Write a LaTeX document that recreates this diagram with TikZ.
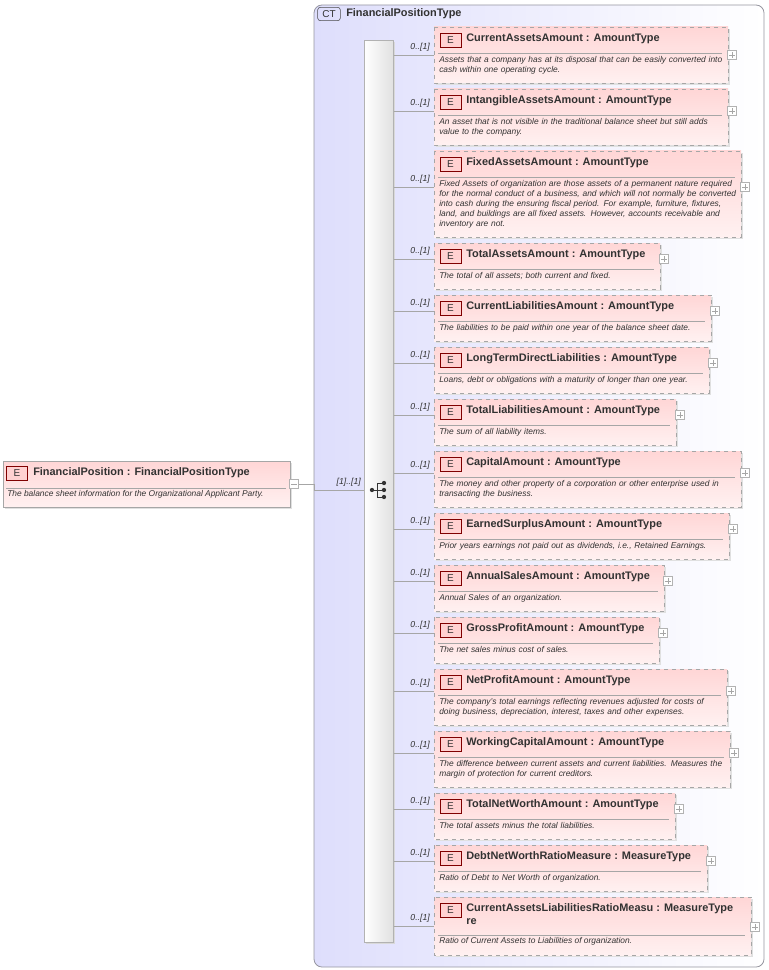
\documentclass[tikz,border=0pt]{standalone}
\usepackage{fontspec}
\setmainfont{Liberation Sans}
\usetikzlibrary{calc}
\definecolor{ctfill}{RGB}{222,222,252}
\definecolor{ctline}{RGB}{150,150,160}
\definecolor{elpink}{RGB}{255,214,214}
\definecolor{eltxt}{RGB}{50,50,50}
\tikzset{
 elbox/.style={draw=gray!70,dashed,top color=elpink,bottom color=elpink!35,line width=0.6pt},
 solidel/.style={draw=gray!70,top color=elpink,bottom color=elpink!35,line width=0.6pt},
 shadowbox/.style={fill=black!12},
 ebadge/.style={draw=red!50!black,fill=red!18,line width=0.5pt,inner sep=0pt,minimum width=15.5pt,minimum height=10.5pt,font=\fontsize{7.5}{8}\selectfont,text=black!80},
 ttl/.style={anchor=west,font=\bfseries\fontsize{8.2}{10}\selectfont,text=eltxt,inner sep=0pt,align=left},
 dsc/.style={anchor=north west,font=\itshape\fontsize{6.3}{7.5}\selectfont,text=eltxt,inner sep=0pt,align=left},
 conn/.style={draw=gray!70,line width=0.6pt},
 card/.style={font=\itshape\fontsize{6.5}{7}\selectfont,text=eltxt,inner sep=0pt,anchor=south east},
 plusbox/.style={draw=gray!60,fill=white,line width=0.4pt,minimum size=7pt,inner sep=0pt},
}
\newcommand\elem[7]{% id, right x, top y, bottom y, conn y, title, desc
 \fill[shadowbox] (436,#3+2) rectangle (#2+2,#4+2);
 \path[elbox] (434,#3) rectangle (#2,#4);
 \node[ebadge] (b#1) at (450.5,#3+13) {E};
 \node[ttl] (t#1) at (466,#3+12) {#6};
 \draw[gray!70,line width=0.5pt] (438,#3+26) -- (#2-6,#3+26);
 \node[dsc,text width=(#2-434-8)*0.75pt] (d#1) at (439,#3+29) {\raggedright #7\par};
 \node[plusbox] (p#1) at (#2+4,#5) {};
 \draw[gray!70,line width=0.4pt] ($(p#1)+(-2.2pt,0)$) -- ($(p#1)+(2.2pt,0)$) ($(p#1)+(0,-2.2pt)$) -- ($(p#1)+(0,2.2pt)$);
 \coordinate (e#1) at (434,#5);
 \draw[conn] (bar.east|-e#1) -- (e#1);
 \node[card] at (430,#5-3) {0..[1]};
}
\begin{document}
\begin{tikzpicture}[x=0.75pt,y=-0.75pt]
\useasboundingbox (0,0) rectangle (768,970);
% CT box
\path[draw=ctline,left color=ctfill,right color=white,rounded corners=6pt,line width=0.6pt] (314,5) rectangle (764,967);
\node[draw=black!70,rounded corners=2pt,inner sep=1pt,minimum width=17pt,minimum height=10pt,font=\fontsize{7.5}{8}\selectfont,text=black!80] (ct) at (329,14) {CT};
\node[ttl] (cttitle) at (346,13.5) {FinancialPositionType};
% sequence bar
\fill[black!15] (366,42) rectangle (395,944);
\node[draw=gray!60,left color=white,right color=black!12,minimum width=29*0.75pt,minimum height=902*0.75pt,inner sep=0pt,anchor=north west,line width=0.5pt] (bar) at (364,40) {};
% sequence icon
\coordinate (sq) at (379,490);
\fill[black!80] (372,490) circle (1.6pt);
\draw[black!80,line width=0.7pt] (372,490) -- (377,490) (377,483) -- (377,497) (377,483) -- (384,483) (377,490) -- (384,490) (377,497) -- (384,497);
\fill[black!80] (384,483) circle (1.6pt) (384,490) circle (1.6pt) (384,497) circle (1.6pt);
% left element
\fill[shadowbox] (5,463) rectangle (292,509);
\path[solidel] (3,461) rectangle (290,507);
\node[ebadge] (b0) at (17,473) {E};
\node[ttl] (t0) at (33,472.5) {FinancialPosition : FinancialPositionType};
\draw[gray!70,line width=0.5pt] (6,488) -- (286,488);
\node[dsc] (d0) at (7,490) {The balance sheet information for the Organizational Applicant Party.};
\node[plusbox] (m0) at (294,484) {};
\draw[gray!70,line width=0.4pt] ($(m0)+(-2.2pt,0)$) -- ($(m0)+(2.2pt,0)$);
\coordinate (lj) at (314,490);
\draw[conn] (m0.east) -- (314,484) -- (lj) -- (bar.west|-lj);
\node[card] at (361,487) {[1]..[1]};
%
\elem{1}{728}{27}{83}{55}{CurrentAssetsAmount : AmountType}{Assets that a company has at its disposal that can be easily converted into cash within one operating cycle.}
\elem{2}{728}{89}{145}{111}{IntangibleAssetsAmount : AmountType}{An asset that is not visible in the traditional balance sheet but still adds value to the company.}
\elem{3}{741}{151}{237}{187}{FixedAssetsAmount : AmountType}{Fixed Assets of organization are those assets of a permanent nature required for the normal conduct of a business, and which will not normally be converted into cash during the ensuring fiscal period. For example, furniture, fixtures, land, and buildings are all fixed assets. However, accounts receivable and inventory are not.}
\elem{4}{660}{243}{289}{259}{TotalAssetsAmount : AmountType}{The total of all assets; both current and fixed.}
\elem{5}{711}{295}{341}{311}{CurrentLiabilitiesAmount : AmountType}{The liabilities to be paid within one year of the balance sheet date.}
\elem{6}{709}{347}{393}{363}{LongTermDirectLiabilities : AmountType}{Loans, debt or obligations with a maturity of longer than one year.}
\elem{7}{676}{399}{445}{415}{TotalLiabilitiesAmount : AmountType}{The sum of all liability items.}
\elem{8}{741}{451}{507}{473}{CapitalAmount : AmountType}{The money and other property of a corporation or other enterprise used in transacting the business.}
\elem{9}{729}{513}{559}{529}{EarnedSurplusAmount : AmountType}{Prior years earnings not paid out as dividends, i.e., Retained Earnings.}
\elem{10}{664}{565}{611}{581}{AnnualSalesAmount : AmountType}{Annual Sales of an organization.}
\elem{11}{659}{617}{663}{633}{GrossProfitAmount : AmountType}{The net sales minus cost of sales.}
\elem{12}{727}{669}{725}{691}{NetProfitAmount : AmountType}{The company's total earnings reflecting revenues adjusted for costs of doing business, depreciation, interest, taxes and other expenses.}
\elem{13}{730}{731}{787}{753}{WorkingCapitalAmount : AmountType}{The difference between current assets and current liabilities. Measures the margin of protection for current creditors.}
\elem{14}{675}{793}{839}{809}{TotalNetWorthAmount : AmountType}{The total assets minus the total liabilities.}
\elem{15}{707}{845}{891}{861}{DebtNetWorthRatioMeasure : MeasureType}{Ratio of Debt to Net Worth of organization.}
% last element, two-line title
\fill[shadowbox] (436,899) rectangle (753,957);
\path[elbox] (434,897) rectangle (751,955);
\node[ebadge] (b16) at (450.5,910) {E};
\node[ttl,anchor=north west] (t16) at (466,903) {CurrentAssetsLiabilitiesRatioMeasu : MeasureType\\re};
\draw[gray!70,line width=0.5pt] (438,935) -- (745,935);
\node[dsc] (d16) at (439,937) {Ratio of Current Assets to Liabilities of organization.};
\node[plusbox] (p16) at (755,927) {};
\draw[gray!70,line width=0.4pt] ($(p16)+(-2.2pt,0)$) -- ($(p16)+(2.2pt,0)$) ($(p16)+(0,-2.2pt)$) -- ($(p16)+(0,2.2pt)$);
\coordinate (e16) at (434,926);
\draw[conn] (bar.east|-e16) -- (e16);
\node[card] at (430,923) {0..[1]};
\end{tikzpicture}
\end{document}
